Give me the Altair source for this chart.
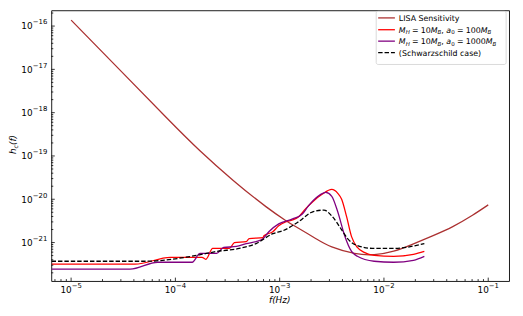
import altair as alt
import pandas as pd

# ---------------- data ----------------
lisa_f = [1.0e-5, 3.16e-5, 8.41e-5, 1.72e-4, 3.61e-4, 7.38e-4, 1.14e-3, 1.42e-3,
          2.19e-3, 3.16e-3, 5.21e-3, 8.05e-3, 1.24e-2, 1.92e-2, 2.96e-2, 4.57e-2,
          7.06e-2, 1.0e-1]
lisa_h = [1.37e-16, 8.1e-18, 7.24e-19, 1.32e-19, 2.69e-20, 6.76e-21, 3.24e-21, 2.34e-21,
          1.26e-21, 7.94e-22, 5.62e-22, 5.25e-22, 6.31e-22, 9.33e-22, 1.45e-21, 2.34e-21,
          4.27e-21, 7.41e-21]

red_f = [6.5e-6, 4.10e-5, 8.97e-5, 1.80e-4, 1.96e-4, 2.28e-4, 3.30e-4, 3.68e-4, 4.78e-4,
         5.10e-4, 6.92e-4, 7.06e-4, 8.59e-4, 9.79e-4, 1.14e-3, 1.33e-3, 1.51e-3, 1.76e-3,
         2.05e-3, 2.55e-3, 3.16e-3, 3.61e-3, 3.93e-3, 4.39e-3, 4.89e-3, 5.56e-3, 6.47e-3,
         8.05e-3, 1.24e-2, 1.92e-2, 2.44e-2]
red_h = [3.16e-22, 3.16e-22, 4.57e-22, 4.57e-22, 4.11e-22, 7.31e-22, 7.31e-22, 1.0e-21, 1.05e-21,
         1.23e-21, 1.30e-21, 1.44e-21, 1.78e-21, 2.43e-21, 3.0e-21, 3.33e-21, 3.90e-21, 5.93e-21,
         8.55e-21, 1.30e-20, 1.69e-20, 1.37e-20, 1.0e-20, 3.90e-21, 1.37e-21, 7.69e-22, 5.93e-22,
         5.07e-22, 4.81e-22, 5.33e-22, 6.24e-22]

pur_f = [6.5e-6, 3.68e-5, 6.76e-5, 1.45e-4, 1.72e-4, 2.49e-4, 2.90e-4, 3.85e-4, 4.78e-4,
         5.94e-4, 6.92e-4, 7.87e-4, 9.79e-4, 1.33e-3, 1.65e-3, 1.88e-3, 2.33e-3, 2.77e-3,
         3.16e-3, 3.61e-3, 4.20e-3, 4.89e-3, 5.56e-3, 8.05e-3, 1.24e-2, 1.92e-2, 2.44e-2]
pur_h = [2.43e-22, 2.43e-22, 3.51e-22, 3.51e-22, 5.62e-22, 5.62e-22, 7.69e-22, 8.11e-22, 9.48e-22,
         1.05e-21, 1.23e-21, 1.78e-21, 2.70e-21, 3.51e-21, 4.56e-21, 6.93e-21, 1.17e-20, 1.44e-20,
         1.17e-20, 5.07e-21, 1.44e-21, 6.24e-22, 4.81e-22, 3.70e-22, 3.51e-22, 3.90e-22, 4.81e-22]

sch_f = [6.5e-6, 5.11e-5, 1.61e-4, 2.49e-4, 4.10e-4, 5.94e-4, 8.59e-4, 1.07e-3, 1.51e-3,
         2.05e-3, 2.66e-3, 3.16e-3, 3.93e-3, 4.48e-3, 5.56e-3, 8.05e-3, 1.24e-2, 2.44e-2]
sch_h = [3.70e-22, 3.70e-22, 5.07e-22, 6.24e-22, 7.31e-22, 9.48e-22, 1.60e-21, 1.87e-21, 3.0e-21,
         5.07e-21, 5.62e-21, 4.11e-21, 1.97e-21, 1.23e-21, 8.55e-22, 7.31e-22, 7.31e-22, 9.48e-22]

x_ticks = [1e-5, 1e-4, 1e-3, 1e-2, 1e-1]
x_tick_exp = ["\u22125", "\u22124", "\u22123", "\u22122", "\u22121"]
y_ticks = [1e-21, 1e-20, 1e-19, 1e-18, 1e-17, 1e-16]
y_tick_exp = ["\u221221", "\u221220", "\u221219", "\u221218", "\u221217", "\u221216"]

X_DOMAIN = [6.46e-6, 0.1585]
Y_DOMAIN = [1.29e-22, 2.31e-16]

x_minor = [m * d for d in [1e-6, 1e-5, 1e-4, 1e-3, 1e-2, 1e-1] for m in range(2, 10)
           if X_DOMAIN[0] <= m * d <= X_DOMAIN[1]]
y_minor = [m * d for d in [1e-23, 1e-22, 1e-21, 1e-20, 1e-19, 1e-18, 1e-17, 1e-16] for m in range(2, 10)
           if Y_DOMAIN[0] <= m * d <= Y_DOMAIN[1]]

# ---------------- layout ----------------
W, H = 465, 275
FONT = "DejaVu Sans"
xs = alt.Scale(type="log", domain=X_DOMAIN, nice=False)
ys = alt.Scale(type="log", domain=Y_DOMAIN, nice=False)
dummy = pd.DataFrame({"d": [0]})

def curve(fs, hs, color, dash=None, interp="monotone"):
    df = pd.DataFrame({"f": fs, "h": hs})
    kw = dict(color=color, strokeWidth=1.3, clip=True, interpolate=interp)
    if dash:
        kw["strokeDash"] = dash
    return alt.Chart(df).mark_line(**kw).encode(
        x=alt.X("f:Q", scale=xs, axis=None),
        y=alt.Y("h:Q", scale=ys, axis=None),
    )

LISA_C, RED_C, PUR_C = "#ab3131", "#ff0000", "#800080"

layers = [
    curve(lisa_f, lisa_h, LISA_C, interp="natural"),
    curve(red_f, red_h, RED_C),
    curve(pur_f, pur_h, PUR_C),
    curve(sch_f, sch_h, "#000000", [4.5, 2]),
]

# ticks (inward)
def xticks(vals, ln):
    return alt.Chart(pd.DataFrame({"f": vals})).mark_rule(color="black", strokeWidth=0.8).encode(
        x=alt.X("f:Q", scale=xs, axis=None), y=alt.value(H), y2=alt.value(H - ln))

def yticks(vals, ln):
    return alt.Chart(pd.DataFrame({"h": vals})).mark_rule(color="black", strokeWidth=0.8).encode(
        y=alt.Y("h:Q", scale=ys, axis=None), x=alt.value(0), x2=alt.value(ln))

layers += [xticks(x_ticks, 3.5), xticks(x_minor, 2), yticks(y_ticks, 3.5), yticks(y_minor, 2)]

# tick labels 10^{-n}
xl = pd.DataFrame({"f": x_ticks, "e": x_tick_exp})
layers.append(alt.Chart(xl).mark_text(font=FONT, fontSize=9, align="right", baseline="alphabetic",
                                      dx=0.6, color="black", text="10").encode(
    x=alt.X("f:Q", scale=xs, axis=None), y=alt.value(H + 12)))
layers.append(alt.Chart(xl).mark_text(font=FONT, fontSize=7, align="left", baseline="alphabetic",
                                      dx=0.6, color="black").encode(
    x=alt.X("f:Q", scale=xs, axis=None), y=alt.value(H + 7), text="e:N"))
yl = pd.DataFrame({"h": y_ticks, "e": y_tick_exp})
layers.append(alt.Chart(yl).mark_text(font=FONT, fontSize=9, align="right", baseline="alphabetic",
                                      dy=3.3, color="black", text="10").encode(
    y=alt.Y("h:Q", scale=ys, axis=None), x=alt.value(-19)))
layers.append(alt.Chart(yl).mark_text(font=FONT, fontSize=7, align="right", baseline="alphabetic",
                                      dy=-1.7, color="black").encode(
    y=alt.Y("h:Q", scale=ys, axis=None), x=alt.value(-4), text="e:N"))

# text pieces helper (for math-like labels)
WID = {"=": 0.838, "1": 0.636, "0": 0.636, ",": 0.318, "M": 0.863, "H": 0.752,
       "B": 0.686, "a": 0.613, "h": 0.634, "c": 0.55, "f": 0.352, "(": 0.39, ")": 0.39}

def tw(s, fs):
    return sum(WID.get(ch, 0.6) for ch in s) * fs

def piece(txt, x, y, fs, italic, angle=0):
    kw = dict(font=FONT, fontSize=fs, align="left", baseline="alphabetic", color="black", text=txt)
    if italic:
        kw["fontStyle"] = "italic"
    if angle:
        kw["angle"] = angle
    return alt.Chart(dummy).mark_text(**kw).encode(x=alt.value(x), y=alt.value(y))

def math_row(parts, x0, yb, fs, sfs, drop):
    out = []
    x = x0
    for txt, it, sub, gap in parts:
        f = sfs if sub else fs
        out.append(piece(txt, x, yb + (drop if sub else 0), f, it))
        x += tw(txt, f) + gap * fs
    return out

# axis titles
layers.append(alt.Chart(dummy).mark_text(font=FONT, fontSize=9, fontStyle="italic", align="center",
                                         baseline="alphabetic", color="black", text="f(Hz)").encode(
    x=alt.value(232), y=alt.value(H + 22)))
# y title h_c(f), rotated
yb0, xb0 = 146, -35.5
layers.append(piece("h", xb0, yb0, 9, True, 270))
layers.append(piece("c", xb0 + 2, yb0 - tw("h", 9), 6.3, True, 270))
layers.append(piece("(f)", xb0, yb0 - tw("h", 9) - tw("c", 6.3), 9, True, 270))

# legend
layers.append(alt.Chart(dummy).mark_rect(fill="white", stroke="#cccccc", strokeWidth=0.8,
                                         cornerRadius=2, opacity=0.9).encode(
    x=alt.value(330), x2=alt.value(462), y=alt.value(1), y2=alt.value(55)))
rows_y = [7.7, 19.7, 31.3, 43.0]
cols = [(LISA_C, None), (RED_C, None), (PUR_C, None), ("#000000", [4.5, 2])]
for (c, dash), ry in zip(cols, rows_y):
    kw = dict(color=c, strokeWidth=1.3)
    if dash:
        kw["strokeDash"] = dash
    layers.append(alt.Chart(dummy).mark_rule(**kw).encode(
        x=alt.value(332), x2=alt.value(349), y=alt.value(ry)))
TX = 353
LF = 8
SF = 5.6
TH = 0.278  # thick space (em)
layers.append(piece("LISA Sensitivity", TX, rows_y[0] + 3, LF, False))
for ry, a0 in [(rows_y[1], "100"), (rows_y[2], "1000")]:
    parts = [("M", True, False, 0), ("H", True, True, TH), ("=", False, False, TH),
             ("10", False, False, 0), ("M", True, False, 0), ("B", True, True, 0),
             (",", False, False, 0.318), ("a", True, False, 0), ("0", False, True, TH),
             ("=", False, False, TH), (a0, False, False, 0), ("M", True, False, 0),
             ("B", True, True, 0)]
    layers += math_row(parts, TX, ry + 3, LF, SF, 1.8)
layers.append(piece("(Schwarzschild case)", TX, rows_y[3] + 3, LF, False))

chart = alt.layer(*layers).properties(
    width=W, height=H,
    autosize=alt.AutoSizeParams(type="none"),
    padding={"left": 44, "top": 0, "right": 6, "bottom": 25},
).configure_view(stroke="black", strokeWidth=0.9)

chart.save("out.html", embed_options={"renderer": "svg", "actions": False})
